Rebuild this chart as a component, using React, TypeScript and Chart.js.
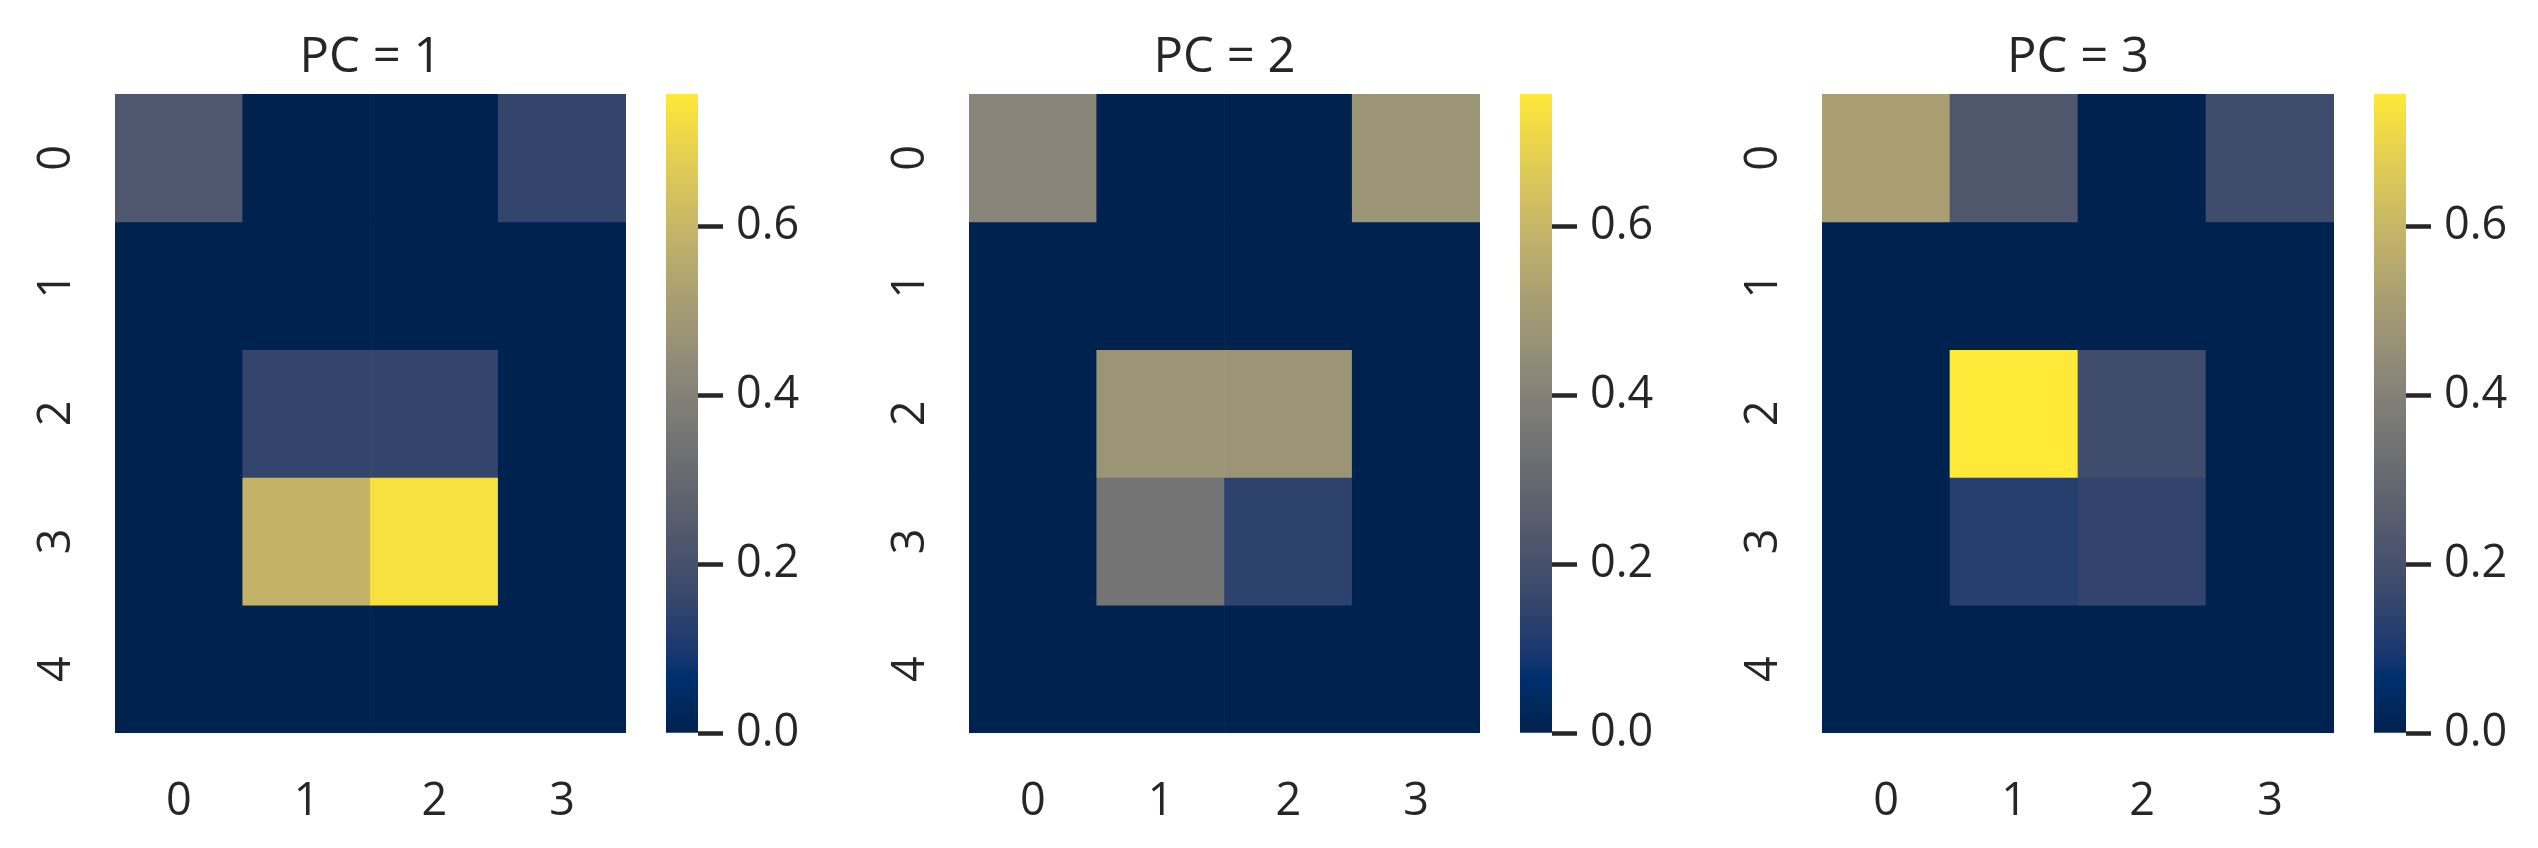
import React, { useEffect, useRef } from 'react';
import { Chart, registerables } from 'chart.js';

Chart.register(...registerables);

// ---------- data ----------
const colLabels = ['0', '1', '2', '3'];
const rowLabels = ['0', '1', '2', '3', '4'];
const panelTitles = ['PC = 1', 'PC = 2', 'PC = 3'];

const pc1Values = [
  [0.225, 0, 0, 0.152],
  [0, 0, 0, 0],
  [0, 0.152, 0.152, 0],
  [0, 0.589, 0.736, 0],
  [0, 0, 0, 0],
];
const pc2Values = [
  [0.416, 0, 0, 0.477],
  [0, 0, 0, 0],
  [0, 0.477, 0.477, 0],
  [0, 0.35, 0.14, 0],
  [0, 0, 0, 0],
];
const pc3Values = [
  [0.515, 0.227, 0, 0.18],
  [0, 0, 0, 0],
  [0, 0.757, 0.18, 0],
  [0, 0.128, 0.149, 0],
  [0, 0, 0, 0],
];
const vMin = 0;
const vMax = 0.757;
const colorbarTicks = [0, 0.2, 0.4, 0.6];

// cividis colormap control points
const cividisPos = [0, 0.09, 1 / 9, 2 / 9, 3 / 9, 4 / 9, 5 / 9, 6 / 9, 7 / 9, 8 / 9, 1];
const cividisHex = ['#00224e', '#00306f', '#123570', '#3b496c', '#575d6d', '#707173', '#8a8678', '#a59c74', '#c3b369', '#e1cc55', '#fee838'];

// ---------- layout / style ----------
const W = 2538;
const H = 848;
const PLOT_TOP = 94;
const PLOT_BOTTOM = 733;
const heatLefts = [115, 969, 1822];
const heatWidths = [511, 511, 512];
const Y_AXIS_W = 115;
const CB_GAP = 40;
const CB_W = 32;
const CB_CANVAS_W = 150;
const FONT = '"Open Sans", "Noto Sans", sans-serif';
const TEXT_COLOR = '#262626';
const TICK_SIZE = 45;
const TITLE_SIZE = 49;
const TITLE_PAD_TOP = 29;

function hexToRgb(h: string) {
  return [parseInt(h.slice(1, 3), 16), parseInt(h.slice(3, 5), 16), parseInt(h.slice(5, 7), 16)];
}
const cividisRgb = cividisHex.map(hexToRgb);

function cividis(t: number) {
  const x = Math.max(0, Math.min(1, t));
  let i = 0;
  while (i < cividisPos.length - 2 && x > cividisPos[i + 1]) i++;
  const f = (x - cividisPos[i]) / (cividisPos[i + 1] - cividisPos[i]);
  const a = cividisRgb[i];
  const b = cividisRgb[i + 1];
  const c = a.map((v, k) => Math.round(v + (b[k] - v) * f));
  return `rgb(${c[0]},${c[1]},${c[2]})`;
}

function Heatmap({ values, title, left, width }: { values: number[][]; title: string; left: number; width: number }) {
  const ref = useRef<HTMLCanvasElement | null>(null);
  const cw = Y_AXIS_W * 2 + width;
  useEffect(() => {
    if (!ref.current) return;
    const datasets = rowLabels.map((r, ri) => ({
      label: 'row ' + r,
      data: colLabels.map(() => [ri, ri + 1]),
      backgroundColor: values[ri].map((v) => cividis((v - vMin) / (vMax - vMin))),
      borderWidth: 0,
      barPercentage: 1,
      categoryPercentage: 1,
      grouped: false,
      yAxisID: 'y',
    }));
    const chart = new Chart(ref.current, {
      type: 'bar',
      data: { labels: colLabels, datasets: datasets as any },
      options: {
        responsive: false,
        maintainAspectRatio: false,
        animation: false,
        devicePixelRatio: 1,
        layout: { padding: 0 },
        plugins: {
          legend: { display: false },
          tooltip: { enabled: false },
          title: {
            display: true,
            text: title,
            color: TEXT_COLOR,
            font: { family: FONT, size: TITLE_SIZE, weight: 'normal' },
            padding: { top: TITLE_PAD_TOP, bottom: PLOT_TOP - TITLE_PAD_TOP - TITLE_SIZE * 1.2 },
          },
        },
        scales: {
          x: {
            type: 'category',
            offset: true,
            grid: { display: false, drawTicks: false },
            border: { display: false },
            ticks: { color: TEXT_COLOR, font: { family: FONT, size: TICK_SIZE }, padding: 42, maxRotation: 0, minRotation: 0 },
            afterFit: (s: any) => {
              s.height = H - PLOT_BOTTOM;
            },
          },
          y: {
            type: 'linear',
            position: 'left',
            min: 0,
            max: rowLabels.length,
            reverse: true,
            grid: { display: false, drawTicks: false },
            border: { display: false },
            afterBuildTicks: (s: any) => {
              s.ticks = rowLabels.map((_, i) => ({ value: i + 0.5 }));
            },
            ticks: {
              color: TEXT_COLOR,
              font: { family: FONT, size: TICK_SIZE },
              minRotation: 90,
              maxRotation: 90,
              crossAlign: 'center',
              padding: 45,
              callback: (_v: any, i: number) => rowLabels[i],
            },
            afterFit: (s: any) => {
              s.width = Y_AXIS_W;
            },
          },
          yRight: {
            type: 'linear',
            position: 'right',
            min: 0,
            max: 1,
            grid: { display: false, drawTicks: false },
            border: { display: false },
            ticks: { display: false },
            afterFit: (s: any) => {
              s.width = Y_AXIS_W;
            },
          },
        },
      } as any,
    });
    return () => chart.destroy();
  }, [values, title, width]);
  return (
    <canvas
      ref={ref}
      width={cw}
      height={H}
      style={{ position: 'absolute', left: left - Y_AXIS_W, top: 0, width: cw, height: H }}
    />
  );
}

function Colorbar({ left }: { left: number }) {
  const ref = useRef<HTMLCanvasElement | null>(null);
  useEffect(() => {
    if (!ref.current) return;
    const chart = new Chart(ref.current, {
      type: 'bar',
      data: {
        labels: [''],
        datasets: [
          {
            data: [[vMin, vMax]] as any,
            borderWidth: 0,
            barPercentage: 1,
            categoryPercentage: 1,
            backgroundColor: (ctx: any) => {
              const ch = ctx.chart;
              if (!ch.chartArea) return '#00224e';
              const ys = ch.scales.y;
              const y0 = ys.getPixelForValue(vMin);
              const y1 = ys.getPixelForValue(vMax);
              const g = ch.ctx.createLinearGradient(0, y0, 0, y1);
              for (let i = 0; i <= 64; i++) {
                g.addColorStop(i / 64, cividis(i / 64));
              }
              return g;
            },
          },
        ],
      },
      options: {
        responsive: false,
        maintainAspectRatio: false,
        animation: false,
        devicePixelRatio: 1,
        layout: { padding: { top: PLOT_TOP, bottom: H - PLOT_BOTTOM, left: 0, right: 0 } },
        plugins: { legend: { display: false }, tooltip: { enabled: false }, title: { display: false } },
        scales: {
          x: { type: 'category', display: false, offset: true },
          y: {
            type: 'linear',
            position: 'right',
            min: vMin,
            max: vMax,
            afterBuildTicks: (s: any) => {
              s.ticks = colorbarTicks.map((v) => ({ value: v }));
            },
            grid: {
              display: true,
              drawOnChartArea: false,
              drawTicks: true,
              tickLength: 25,
              tickWidth: 4.5,
              tickColor: TEXT_COLOR,
            },
            border: { display: false },
            ticks: {
              color: TEXT_COLOR,
              font: { family: FONT, size: TICK_SIZE },
              padding: 13,
              callback: (v: any) => Number(v).toFixed(1),
            },
            afterFit: (s: any) => {
              s.width = CB_CANVAS_W - CB_W;
            },
          },
        },
      } as any,
    });
    return () => chart.destroy();
  }, [left]);
  return (
    <canvas
      ref={ref}
      width={CB_CANVAS_W}
      height={H}
      style={{ position: 'absolute', left, top: 0, width: CB_CANVAS_W, height: H }}
    />
  );
}

const panelValues = [pc1Values, pc2Values, pc3Values];

export default function App() {
  return (
    <div style={{ position: 'fixed', left: 0, top: 0, width: W, height: H, background: '#ffffff', overflow: 'hidden' }}>
      {panelValues.map((vals, p) => (
        <Heatmap key={'h' + p} values={vals} title={panelTitles[p]} left={heatLefts[p]} width={heatWidths[p]} />
      ))}
      {panelValues.map((_, p) => (
        <Colorbar key={'c' + p} left={heatLefts[p] + heatWidths[p] + CB_GAP} />
      ))}
    </div>
  );
}
